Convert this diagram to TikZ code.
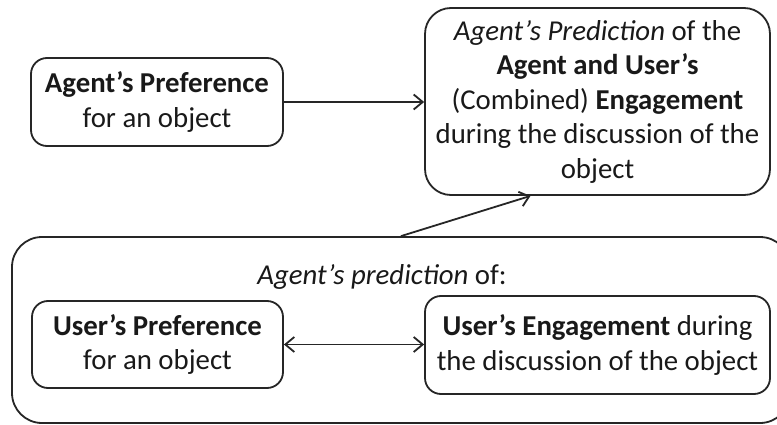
\documentclass[tikz,border=0pt]{standalone}
\usepackage{fontspec}
\setmainfont{Carlito}
\usetikzlibrary{arrows.meta}
\begin{document}
\begin{tikzpicture}[x=1pt,y=-1pt,
  txt/.style={font=\fontsize{28.8}{34.5}\selectfont, text=black!90},
  box/.style={txt, draw=black!85, line width=1.8pt, rounded corners=16pt, align=center, inner sep=0pt},
  conn/.style={line width=1.8pt, draw=black!85},
  tip/.style={-{Straight Barb[length=9pt,width=15pt,line width=1.8pt]}},
  dtip/.style={{Straight Barb[length=9pt,width=15pt,line width=1.8pt]}-{Straight Barb[length=9pt,width=15pt,line width=1.8pt]}}]
\useasboundingbox (0,0) rectangle (777,425);
\fill[white] (0,0) rectangle (777,425);
\node[box, minimum width=252pt, minimum height=88pt] (ap) at (157,102)
  {\textbf{Agent’s Preference}\\for an object};
\node[box, rounded corners=26pt, minimum width=345pt, minimum height=187pt] (top) at (597.5,101.5)
  {\textit{Agent’s Prediction} of the\\\textbf{Agent and User’s}\\(Combined) \textbf{Engagement}\\during the discussion of the\\object};
\node[box, rounded corners=30pt, minimum width=778pt, minimum height=186pt] (outer) at (401,330) {};
\node[txt, inner sep=0pt] (lab) at (382,277) {\textit{Agent’s prediction} of:};
\node[box, minimum width=251pt, minimum height=87pt] (up) at (157.5,344.5)
  {\textbf{User’s Preference}\\for an object};
\node[box, minimum width=345pt, minimum height=98pt] (ue) at (597.5,345)
  {\textbf{User’s Engagement} during\\the discussion of the object};
\draw[conn, tip] (ap.east) -- (top.west |- ap.east);
\draw[conn, tip] (outer.north) -- ([xshift=-67pt]top.south);
\draw[conn, dtip] (up.east) -- (ue.west |- up.east);
\end{tikzpicture}
\end{document}
